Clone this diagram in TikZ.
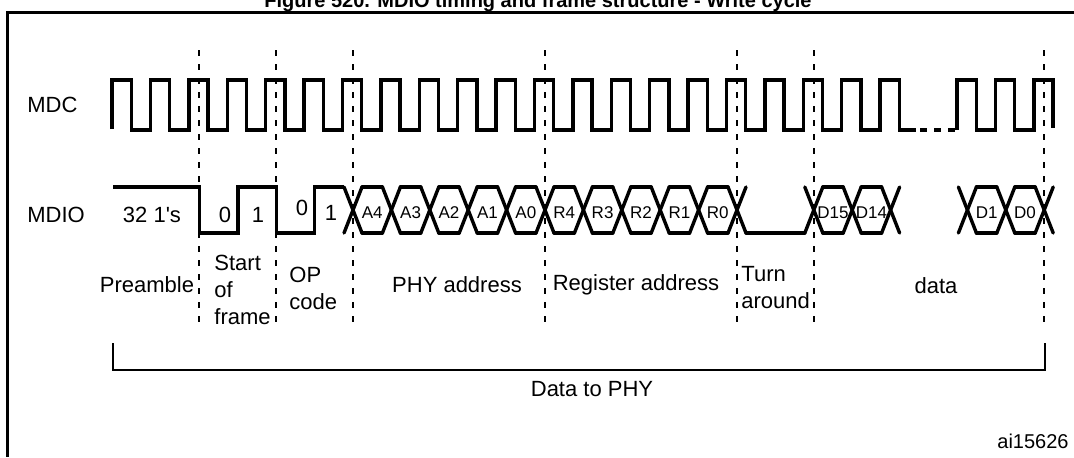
\documentclass[tikz,border=0pt]{standalone}
\usepackage{fontspec}
\setmainfont{Liberation Sans}

\begin{document}
\begin{tikzpicture}[
  x=0.5pt, y=-0.5pt,
  sig/.style={line width=1.7pt},
  sigx/.style={line width=1.7pt, line cap=round},
  sep/.style={line width=1pt, dash pattern=on 3pt off 4pt},
  lbl/.style={font=\fontsize{11}{13.5}\selectfont, inner sep=0pt},
  bit/.style={font=\fontsize{8.5}{10}\selectfont, inner sep=0pt},
  lft/.style={lbl, align=left, anchor=west}
]
\useasboundingbox (0,0) rectangle (1074,457);

\node[font=\bfseries\fontsize{10}{12}\selectfont, anchor=base, inner sep=0pt] (title) at (538,7)
  {Figure 520. MDIO timing and frame structure - Write cycle};
\draw[line width=1.5pt] (1074,12) -- (7,12) -- (7,457);

\foreach \j in {0,2,4,9,14,16,22}
  \draw[sep] ({199.4+38.4*\j},50) -- ({199.4+38.4*\j},328);

\node[lft] (mdc) at (27,105) {MDC};
\draw[sig] (112,129) -- (112,80)
  foreach \k in {0,...,19} { -- ++(19.2,0) -- ++(0,50) -- ++(19.2,0) -- ++(0,-50) }
  -- ++(19.2,0) -- ++(0,50) -- (916,130);
\draw[sig, dash pattern=on 3.5pt off 3.5pt] (920,130) -- (955,130);
\draw[sig] (957,130) -- (957,80)
  foreach \k in {0,1} { -- ++(19.2,0) -- ++(0,50) -- ++(19.2,0) -- ++(0,-50) }
  -- ++(19.2,0) -- ++(0,48);

\node[lft] (mdio) at (27,215) {MDIO};
\draw[sig] (113,187) -- (199.4,187) -- (199.4,233) -- (237.8,233) -- (237.8,187)
  -- (276.2,187) -- (276.2,233) -- (314.6,233) -- (314.6,187) -- (344,187);
\foreach \j in {4,...,14,16,17,18,20,21,22} {
  \draw[sigx] ({199.4+38.4*\j-9},187) -- ++(18,46);
  \draw[sigx] ({199.4+38.4*\j-9},233) -- ++(18,-46);
}
\foreach \j in {4,...,13,16,17,20,21} {
  \draw[sigx] ({199.4+38.4*\j+9},187) -- ++(20.4,0);
  \draw[sigx] ({199.4+38.4*\j+9},233) -- ++(20.4,0);
}
\draw[sigx] ({199.4+38.4*14+9},233) -- ({199.4+38.4*16-9},233);

\foreach \j/\t in {4/A4,5/A3,6/A2,7/A1,8/A0,9/R4,10/R3,11/R2,12/R1,13/R0,16/D15,17/D14,20/D1,21/D0}
  \node[bit] (b\t) at ({199.4+38.4*\j+19.2},213) {\t};

\node[lbl] (ones) at (152,215) {32 1\textquotesingle s};
\node[lbl] (sf0) at (225,215) {0};
\node[lbl] (sf1) at (258,215) {1};
\node[lbl] (op0) at (302,208) {0};
\node[lbl] (op1) at (331,213) {1};

\node[lbl] (pre) at (147,285) {Preamble};
\node[lft] (sof) at (214,290) {Start\\of\\frame};
\node[lft] (opc) at (289,288) {OP\\code};
\node[lbl] (phya) at (457,285) {PHY address};
\node[lbl] (rega) at (636,285) {Register address};
\node[lft] (turn) at (741,288) {Turn\\around};
\node[lbl] (dat) at (936,286) {data};

\coordinate (brl) at (113,343);
\coordinate (brr) at (1045,343);
\draw[line width=0.9pt] (brl) -- ++(0,27) -| (brr);
\node[lbl] (tophy) at (592,389) {Data to PHY};
\node[font=\fontsize{10}{12}\selectfont, anchor=base east, inner sep=0pt] (figid) at (1069,448) {ai15626};
\end{tikzpicture}
\end{document}
